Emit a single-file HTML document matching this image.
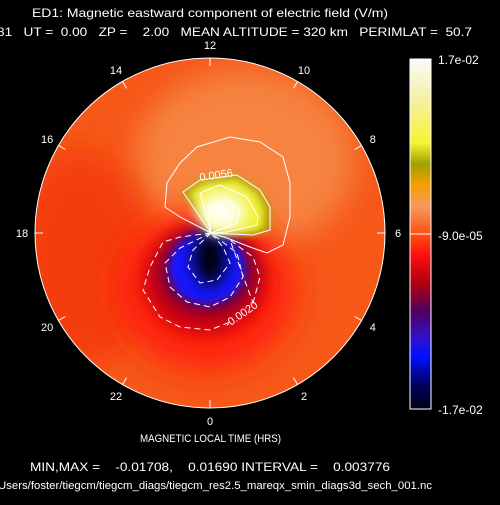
<!DOCTYPE html>
<html><head><meta charset="utf-8"><style>
html,body{margin:0;padding:0;background:#000;}
svg text{font-family:"Liberation Sans",sans-serif;fill:#fff;white-space:pre;}
</style></head><body>
<svg id="chart" width="500" height="500" viewBox="0 0 500 500">
<defs>
<clipPath id="disk"><circle cx="210" cy="233" r="175"/></clipPath>
<filter id="b8" x="-50%" y="-50%" width="200%" height="200%"><feGaussianBlur stdDeviation="8"/></filter>
<filter id="b4" x="-50%" y="-50%" width="200%" height="200%"><feGaussianBlur stdDeviation="4"/></filter>
<filter id="b15" x="-50%" y="-50%" width="200%" height="200%"><feGaussianBlur stdDeviation="15"/></filter>
<linearGradient id="cbar" x1="0" y1="0" x2="0" y2="1">
<stop offset="0" stop-color="#fafafa"/><stop offset="0.12" stop-color="#f5f0a0"/>
<stop offset="0.24" stop-color="#f5f530"/><stop offset="0.3" stop-color="#a0a000"/>
<stop offset="0.36" stop-color="#f5a000"/><stop offset="0.42" stop-color="#f59a60"/>
<stop offset="0.5" stop-color="#ff5010"/><stop offset="0.56" stop-color="#ff1010"/>
<stop offset="0.64" stop-color="#b00010"/><stop offset="0.72" stop-color="#500060"/>
<stop offset="0.8" stop-color="#3010d0"/><stop offset="0.85" stop-color="#0010ff"/>
<stop offset="0.93" stop-color="#000060"/><stop offset="1" stop-color="#000018"/>
</linearGradient>
</defs>
<text x="32" y="17" font-size="12" textLength="356" lengthAdjust="spacingAndGlyphs">ED1: Magnetic eastward component of electric field (V/m)</text>
<text x="-3" y="36" font-size="12" textLength="475" lengthAdjust="spacingAndGlyphs">81   UT =  0.00   ZP =    2.00   MEAN ALTITUDE = 320 km   PERIMLAT =  50.7</text>

<g clip-path="url(#disk)">
<rect x="30" y="55" width="360" height="360" fill="#f65818"/>
<ellipse cx="245" cy="160" rx="110" ry="90" fill="#f6833f" filter="url(#b15)"/>
<ellipse cx="80" cy="260" rx="70" ry="110" fill="#f43c08" filter="url(#b15)"/>
<ellipse cx="205" cy="290" rx="90" ry="80" fill="#ff2008" filter="url(#b15)"/>
<ellipse cx="205" cy="280" rx="62" ry="55" fill="#d00010" filter="url(#b8)"/>
<ellipse cx="207" cy="272" rx="48" ry="42" fill="#700040" filter="url(#b8)"/>
<ellipse cx="207" cy="268" rx="38" ry="36" fill="#1818ff" filter="url(#b4)"/>
<ellipse cx="210" cy="258" rx="16" ry="28" fill="#000010" filter="url(#b8)"/>
<path d="M211,233 L183,192 L200,180 L237,175 L260,190 L270,207 L270,230 L253,235 Z" fill="#a8a800" filter="url(#b4)"/>
<path d="M211,233 L190,193 L203,184 L236,180 L256,193 L264,209 L263,228 L250,232 Z" fill="#f0f030" filter="url(#b4)"/>
<ellipse cx="222" cy="212" rx="24" ry="20" fill="#fffff0" filter="url(#b8)"/>
</g>

<g fill="none" stroke="#fff" stroke-width="1">
<path d="M211,233 L180,217 L165,207 L167,183 L180,163 L197,147 L230,137 L260,142 L283,157 L290,183 L290,217 L283,245 L267,253 L250,247 L227,238 Z"/>
<path d="M211,233 L183,192 L200,180 L237,175 L260,190 L270,207 L270,230 L253,235 Z"/>
<path d="M211,233 L200,193 L220,185 L247,197 L258,217 L257,225 L227,232 Z"/>
<path d="M211,233 L208,207 L227,200 L240,210 L237,223 Z"/>
<g stroke-dasharray="6,4">
<path d="M211,233 L180,237 L163,242 L150,267 L143,290 L160,317 L180,327 L210,330 L230,322 M253,303 L260,277 L253,257 L230,240 Z"/>
<path d="M211,233 L180,248 L165,263 L170,287 L187,302 L210,307 L230,297 L243,277 L237,253 Z"/>
<path d="M211,233 L193,250 L188,267 L200,283 L217,280 L230,263 L223,247 Z"/>
</g>
</g>
<text x="200" y="181" font-size="11" transform="rotate(-8 200 181)">0.0056</text>
<text x="228" y="328" font-size="11" transform="rotate(-35 228 328)">-0.0020</text>

<circle cx="210" cy="233" r="175" fill="none" stroke="#fff" stroke-width="1"/>
<g id="hours"></g>

<rect x="410" y="59" width="21" height="350" fill="url(#cbar)" stroke="#fff" stroke-width="1"/>
<line x1="410" y1="234" x2="431" y2="234" stroke="#fff"/>
<g id="cbticks"></g>

<text x="140" y="442" font-size="11" textLength="141" lengthAdjust="spacingAndGlyphs">MAGNETIC LOCAL TIME (HRS)</text>
<text x="30" y="471" font-size="12" textLength="360" lengthAdjust="spacingAndGlyphs">MIN,MAX =    -0.01708,    0.01690 INTERVAL =    0.003776</text>
<text x="-2" y="489" font-size="11" textLength="434" lengthAdjust="spacingAndGlyphs">Users/foster/tiegcm/tiegcm_diags/tiegcm_res2.5_mareqx_smin_diags3d_sech_001.nc</text>
</svg>
<script>
const hourLabels = ["0","2","4","6","8","10","12","14","16","18","20","22"];
const hourValues = [0,2,4,6,8,10,12,14,16,18,20,22];
const cbTickLabels = ["1.7e-02","-9.0e-05","-1.7e-02"];
const cbTickValues = [0.017,-0.00009,-0.017];
const NS = "http://www.w3.org/2000/svg";
const cx = 210, cy = 233, R = 175;
const hg = document.getElementById("hours");
function polar(h, r){ const a = (12 - h) * 15 * Math.PI / 180; return [cx + r*Math.sin(a), cy - r*Math.cos(a)]; }
hourValues.forEach((h, i) => {
  const [x1,y1] = polar(h, R), [x2,y2] = polar(h, R-8);
  const ln = document.createElementNS(NS, "line");
  ln.setAttribute("x1", x1); ln.setAttribute("y1", y1); ln.setAttribute("x2", x2); ln.setAttribute("y2", y2);
  ln.setAttribute("stroke", "#fff");
  
  
  hg.appendChild(ln);
  const [tx,ty] = polar(h, 188);
  const t = document.createElementNS(NS, "text");
  t.setAttribute("x", tx); t.setAttribute("y", ty + 4);
  t.setAttribute("font-size", "11"); t.setAttribute("text-anchor", "middle");
  t.textContent = hourLabels[i];
  
  
  hg.appendChild(t);
});
const cg = document.getElementById("cbticks");
const vMaxC = 0.017, vMinC = -0.017, barTop = 59, barBot = 409;
cbTickValues.forEach((v, i) => {
  const y = barTop + (vMaxC - v) / (vMaxC - vMinC) * (barBot - barTop);
  const t = document.createElementNS(NS, "text");
  t.setAttribute("x", 438); t.setAttribute("y", y + 5);
  t.setAttribute("font-size", "12");
  t.textContent = cbTickLabels[i];
  
  
  cg.appendChild(t);
});
</script>
</body></html>
